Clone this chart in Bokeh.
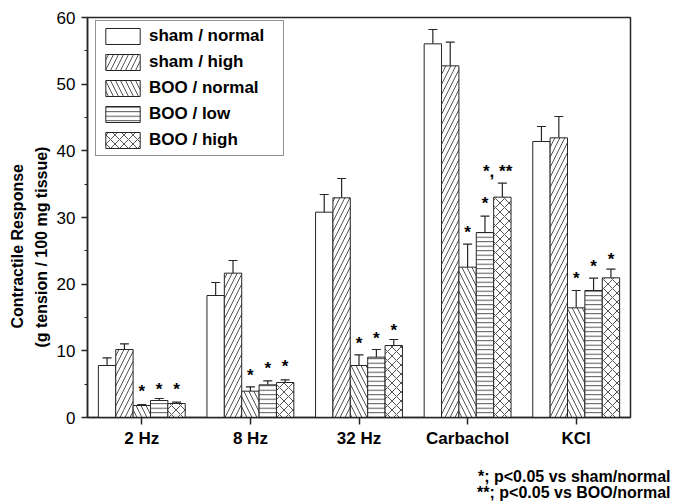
from bokeh.plotting import figure
from bokeh.models import (ColumnDataSource, FactorRange, Range1d, Whisker, TeeHead,
                          Legend, LegendItem, Title, FixedTicker)
from bokeh.transform import dodge
from bokeh.core.properties import value
from bokeh.embed import file_html
from bokeh.resources import INLINE

categories = ["2 Hz", "8 Hz", "32 Hz", "Carbachol", "KCl"]
series = ["sham / normal", "sham / high", "BOO / normal", "BOO / low", "BOO / high"]

sham_normal = [7.8, 18.3, 30.8, 56.05, 41.4]
sham_normal_err = [1.15, 1.95, 2.65, 2.15, 2.25]
sham_high = [10.2, 21.65, 32.95, 52.75, 41.95]
sham_high_err = [0.85, 1.9, 2.9, 3.55, 3.2]
boo_normal = [1.8, 3.95, 7.8, 22.55, 16.45]
boo_normal_err = [0.15, 0.65, 1.6, 3.45, 2.6]
boo_low = [2.55, 4.9, 9.05, 27.75, 19.05]
boo_low_err = [0.3, 0.6, 1.15, 2.45, 1.85]
boo_high = [2.1, 5.25, 10.8, 33.05, 20.95]
boo_high_err = [0.2, 0.4, 0.9, 2.1, 1.3]

# significance marks (star heights)
star_y_boo_normal = [5.4, 7.8, 12.55, 29.3, 22.4]
star_y_boo_low = [5.75, 8.9, 13.4, 33.65, 24.1]
star_y_boo_high = [5.65, 9.15, 14.5, 38.4, 25.25]
star_txt_boo_normal = ["*", "*", "*", "*", "*"]
star_txt_boo_low = ["*", "*", "*", "*", "*"]
star_txt_boo_high = ["*", "*", "*", "*,   **", "*"]

y_ticks = [0, 10, 20, 30, 40, 50, 60]
footnotes = ["*; p<0.05 vs sham/normal", "**; p<0.05 vs BOO/normal"]
y_title = ["Contractile Response", "(g tension / 100 mg tissue)"]

values = [sham_normal, sham_high, boo_normal, boo_low, boo_high]
errors = [sham_normal_err, sham_high_err, boo_normal_err, boo_low_err, boo_high_err]
stars = [None, None, (star_y_boo_normal, star_txt_boo_normal),
         (star_y_boo_low, star_txt_boo_low), (star_y_boo_high, star_txt_boo_high)]
hatches = [" ", "/", "\\", "-", "x"]
hatch_scales = [8, 10, 10, 4.5, 9]

FONT = "Liberation Sans"
INK = "#262626"

p = figure(x_range=FactorRange(*categories, range_padding=0), y_range=Range1d(0, 60),
           width=675, height=502, output_backend="svg", toolbar_location=None,
           min_border_left=87, min_border_right=45, min_border_top=17, min_border_bottom=85)
p.background_fill_color = "white"
p.border_fill_color = "white"
p.outline_line_color = INK
p.outline_line_width = 1.5
p.xgrid.visible = False
p.ygrid.visible = False

bw = 0.16
items = []
for i, name in enumerate(series):
    off = (i - 2) * bw
    src = ColumnDataSource(dict(cat=categories, top=values[i],
                                upper=[v + e for v, e in zip(values[i], errors[i])]))
    xs = dodge("cat", off, range=p.x_range)
    r = p.vbar(x=xs, top="top", bottom=0, width=bw, source=src,
               fill_color="white", line_color=INK, line_width=1,
               hatch_pattern=hatches[i], hatch_color=INK, hatch_weight=0.8,
               hatch_scale=hatch_scales[i])
    w = Whisker(source=src, base=xs, upper="upper", lower="top",
                upper_head=TeeHead(size=9, line_color=INK, line_width=1.2),
                lower_head=None, line_color=INK, line_width=1.2)
    p.add_layout(w)
    items.append(LegendItem(label=name, renderers=[r]))
    if stars[i] is not None:
        sy, st = stars[i]
        ssrc = ColumnDataSource(dict(cat=categories, y=sy, t=st))
        p.text(x=xs, y="y", text="t", source=ssrc, text_font=value(FONT),
               text_font_style="bold", text_font_size="17px", text_color="black",
               text_align="center", text_baseline="alphabetic", y_offset=10)

legend = Legend(items=items, location=(8, 400 - 134 - 5), glyph_width=43, glyph_height=20,
                spacing=6, padding=5, margin=0, label_standoff=5, label_width=129,
                label_text_font=FONT, label_text_font_style="bold",
                label_text_font_size="17px", label_text_color="black",
                border_line_color=INK, border_line_width=1, background_fill_alpha=1)
p.add_layout(legend)

for ax in (p.xaxis, p.yaxis):
    ax.axis_line_color = INK
    ax.axis_line_width = 1.5
    ax.major_tick_line_color = INK
    ax.major_tick_line_width = 1.5
    ax.minor_tick_line_color = INK
    ax.major_label_text_font = FONT
    ax.major_label_text_color = "black"
    ax.major_label_text_font_size = "17px"

p.xaxis.major_tick_out = 7
p.xaxis.major_tick_in = 0
p.xaxis.major_label_standoff = 4
p.xaxis.major_label_text_font_style = "bold"

p.yaxis.ticker = FixedTicker(ticks=y_ticks, minor_ticks=[t + 5 for t in y_ticks[:-1]])
p.yaxis.major_tick_out = 6
p.yaxis.major_tick_in = 0
p.yaxis.minor_tick_out = 3
p.yaxis.minor_tick_in = 0
p.yaxis.major_label_standoff = 6

# y-axis title: two bold lines, placed lower than the frame centre as in the reference
for t, off, so in zip(reversed(y_title), [70, 89], [7, 3]):
    p.add_layout(Title(text=t, align="left", offset=off, standoff=so,
                       text_font=FONT, text_font_style="bold", text_font_size="16px",
                       text_color="black"), "left")

# empty spacer between the x axis and the footnotes
p.add_layout(Title(text=" ", standoff=4, text_font_size="10px"), "below")

# footnotes under the x axis, right aligned past the frame edge
for t in footnotes:
    p.add_layout(Title(text=t, align="right", offset=-40, standoff=-3,
                       text_font=FONT, text_font_style="bold", text_font_size="16px",
                       text_color="black"), "below")

open("out.html", "w").write(file_html(p, INLINE))
